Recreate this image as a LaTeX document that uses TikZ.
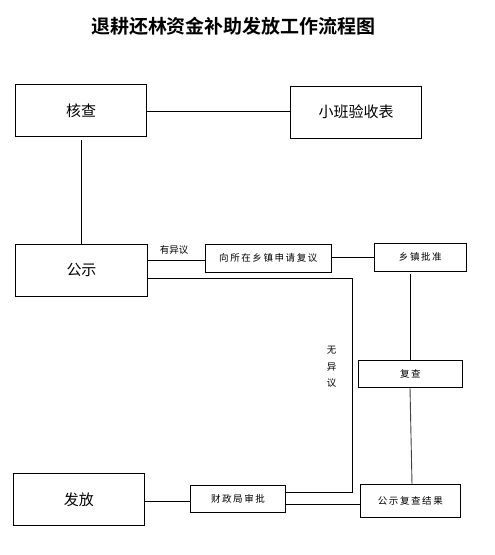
\documentclass[tikz,border=0pt]{standalone}
\usepackage{fontspec}
\newfontfamily\cjk{Noto Sans CJK SC}
\newfontfamily\cjkb{Noto Sans CJK SC Bold}
\begin{document}
\begin{tikzpicture}[x=1pt,y=-1pt,
  line width=0.9pt,
  bigbox/.style={draw,inner sep=0pt,font=\cjk\fontsize{15}{17}\selectfont},
  smallbox/.style={draw,inner sep=0pt,font=\cjk\fontsize{9.5}{11}\selectfont},
  lbl/.style={inner sep=0pt,font=\cjk\fontsize{9.5}{11}\selectfont}]
\useasboundingbox (0,0) rectangle (495,555);
\fill[white] (0,0) rectangle (495,555);
\node[inner sep=0pt,font=\cjkb\fontsize{19}{21}\selectfont] (title) at (233.5,26.5) {退耕还林资金补助发放工作流程图};
% boxes
\node[bigbox,minimum width=131pt,minimum height=52pt] (hc) at (81.2,110.3) {核查};
\node[bigbox,minimum width=131.4pt,minimum height=51.7pt] (xb) at (356,112.2) {小班验收表};
\node[bigbox,minimum width=131.6pt,minimum height=51.7pt] (gs) at (81.5,270.2) {公示};
\node[smallbox,minimum width=126pt,minimum height=28pt] (sq) at (268.3,258.3) {向\,所\,在\,乡\,镇\,申\,请\,复\,议};
\node[smallbox,minimum width=92pt,minimum height=28pt] (pz) at (420.3,257.3) {乡\,镇\,批\,准};
\node[smallbox,minimum width=104pt,minimum height=27pt] (fc) at (410.3,373.8) {复\,查};
\node[bigbox,minimum width=131pt,minimum height=52pt] (ff) at (78.8,499.3) {发放};
\node[smallbox,minimum width=95.4pt,minimum height=27pt] (cz) at (238,498.8) {财\,政\,局\,审\,批};
\node[smallbox,minimum width=100pt,minimum height=33pt] (jg) at (410.3,500.8) {公\,示\,复\,查\,结\,果};
% labels
\node[lbl] (yyy) at (174,250) {有异议};
\node[lbl,align=center,font=\cjk\fontsize{9.5}{16.2}\selectfont] (wyy) at (331.7,366.8) {无\\异\\议};
% coordinates
\coordinate (c1) at (352.3,278.3);
\coordinate (c2) at (352.3,492.3);
% connectors
\draw (hc.east |- 0,111) -- (xb.west |- 0,111);
\draw (81.3,140) -- (gs.north -| 81.3,0);
\draw (gs.east |- 0,260.3) -- (sq.west |- 0,260.3);
\draw (sq.east |- 0,257.3) -- (pz.west |- 0,257.3);
\draw (gs.east |- c1) -- (c1) -- (c2) -- (cz.east |- c2);
\draw (410,274) -- (fc.north -| 410,0);
\draw[black!75] (fc.south -| 410,0) -- (jg.north -| 412,0);
\draw (ff.east |- 0,501.3) -- (cz.west |- 0,501.3);
\draw (cz.east |- 0,504) -- (jg.west |- 0,504);
\end{tikzpicture}
\end{document}
